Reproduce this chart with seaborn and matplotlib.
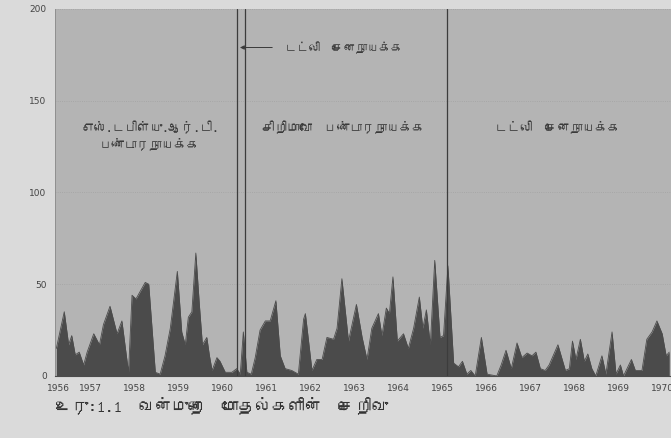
import matplotlib
matplotlib.use("Agg")
import matplotlib.pyplot as plt
from matplotlib import font_manager, ft2font
import seaborn as sns
import pandas as pd

# Monthly-ish readings of the violence index (decimal year, value)
years = [
    1956.23, 1956.41, 1956.51, 1956.58, 1956.66, 1956.75, 1956.85, 1956.93,
    1957.08, 1957.21, 1957.30, 1957.45, 1957.61, 1957.72, 1957.87, 1957.95,
    1958.04, 1958.25, 1958.33, 1958.48, 1958.59, 1958.70, 1958.82, 1958.98,
    1959.08, 1959.16, 1959.23, 1959.31, 1959.40, 1959.48, 1959.55, 1959.65,
    1959.71, 1959.77, 1959.88, 1959.95, 1960.07, 1960.22, 1960.33, 1960.41,
    1960.48, 1960.56, 1960.66, 1960.75, 1960.86, 1960.98, 1961.09, 1961.22,
    1961.32, 1961.43, 1961.58, 1961.73, 1961.85, 1961.89, 1962.04, 1962.15,
    1962.27, 1962.38, 1962.53, 1962.61, 1962.72, 1962.87, 1963.05, 1963.18,
    1963.29, 1963.40, 1963.55, 1963.63, 1963.73, 1963.80, 1963.88, 1963.98,
    1964.12, 1964.23, 1964.35, 1964.48, 1964.56, 1964.64, 1964.73, 1964.83,
    1964.95, 1965.03, 1965.13, 1965.26, 1965.37, 1965.46, 1965.56, 1965.65,
    1965.75, 1965.89, 1966.02, 1966.13, 1966.24, 1966.34, 1966.45, 1966.57,
    1966.70, 1966.81, 1966.93, 1967.04, 1967.13, 1967.23, 1967.34, 1967.43,
    1967.63, 1967.80, 1967.89, 1967.96, 1968.04, 1968.14, 1968.23, 1968.31,
    1968.40, 1968.49, 1968.63, 1968.72, 1968.86, 1968.95, 1969.05, 1969.12,
    1969.30, 1969.39, 1969.54, 1969.65, 1969.77, 1969.88, 1970.00, 1970.09,
    1970.16,
]
violence = [
    15, 35, 17, 22, 11.5, 13, 6, 13,
    23, 17, 28, 38, 23, 30, 2, 44,
    42, 51, 50, 2, 1, 11, 26, 57,
    24, 17, 32, 35, 67, 39, 17, 21,
    11, 3, 10, 8, 2, 2, 4, 1,
    24, 2, 1, 10, 25, 30, 30, 41,
    11, 4, 3, 1, 31, 34, 3, 9,
    9, 21, 20, 26, 53, 19, 39, 21,
    9, 26, 34, 22, 37, 34, 54, 19,
    23, 15, 26, 43, 26, 36, 17, 63,
    21, 22, 60, 7, 5, 8, 1, 3,
    0, 21, 1, 0.5, 0, 6, 14, 4,
    18, 10, 12.5, 11, 13, 4, 3, 6,
    17, 3, 4, 19, 9, 20, 8, 12,
    4, 0, 11, 1, 24, 1, 6, 0,
    9, 3, 3, 20, 24, 30, 23, 11,
    13,
]

year_ticks = [1956.27] + list(range(1957, 1971))
year_labels = [str(y) for y in range(1956, 1971)]

# changes of government
govt_changes = [1960.33, 1960.51, 1965.11]

df = pd.DataFrame({"year": years, "violence": violence})


def tamil_font():
    # pick any installed font that actually has Tamil glyphs
    for f in font_manager.fontManager.ttflist:
        try:
            if ft2font.FT2Font(f.fname).get_char_index(0x0BA4):
                return f.name
        except Exception:
            pass
    return "DejaVu Sans"


sns.set_style("white", {"axes.facecolor": "#b4b4b4", "figure.facecolor": "#dadada"})
tfont = [tamil_font(), "DejaVu Sans"]

fig = plt.figure(figsize=(6.71, 4.38), dpi=100)
ax = fig.add_axes([0.082, 0.1416, 0.918, 0.8379])

ax.fill_between(df["year"], 0, df["violence"], color="#4b4b4b", lw=0)
sns.lineplot(data=df, x="year", y="violence", ax=ax, color="#4b4b4b", lw=0.6)

for g in govt_changes:
    ax.axvline(g, color="#3c3c3c", lw=0.9)

ax.set_xlim(1956.2, 1970.2)
ax.set_ylim(0, 200)
ax.set_yticks([0, 50, 100, 150, 200])
ax.set_xticks(year_ticks)
ax.set_xticklabels(year_labels)
ax.tick_params(labelsize=6.5, colors="#444444", length=0, pad=6)
ax.yaxis.grid(True, color="#a2a2a2", ls=":", lw=0.6)
ax.set_axisbelow(True)
ax.set_xlabel("")
ax.set_ylabel("")
for side in ["top", "right"]:
    ax.spines[side].set_visible(False)
ax.spines["left"].set_color("#8a8a8a")
ax.spines["left"].set_linewidth(0.6)
ax.spines["bottom"].set_color("#4b4b4b")
ax.spines["bottom"].set_linewidth(0.8)

txt = dict(fontsize=9, color="#3a3a3a", family=tfont, ha="center", va="center")
ax.text(1958.36, 131, "எஸ்.டபிள்யு.ஆர்.டி.\nபண்டாரநாயக்க", linespacing=1.3, **txt)
ax.text(1962.75, 135.7, "சிறிமாவோ  பண்டாரநாயக்க", **txt)
ax.text(1967.61, 135.7, "டட்லி  சேனநாயக்க", **txt)
ax.text(1961.43, 179, "டட்லி  சேனநாயக்க", fontsize=8.5, color="#3a3a3a",
        family=tfont, ha="left", va="center")
ax.annotate("", xy=(1960.34, 179), xytext=(1961.2, 179),
            arrowprops=dict(arrowstyle="-|>", color="#3a3a3a", lw=0.7,
                            mutation_scale=6))

fig.text(0.082, 0.075, "உரு:1.1  வன்முறை  மோதல்களின்  செறிவு", fontsize=12,
         color="#333333", family=tfont, ha="left", va="center")

fig.savefig("out.png", dpi=100)
